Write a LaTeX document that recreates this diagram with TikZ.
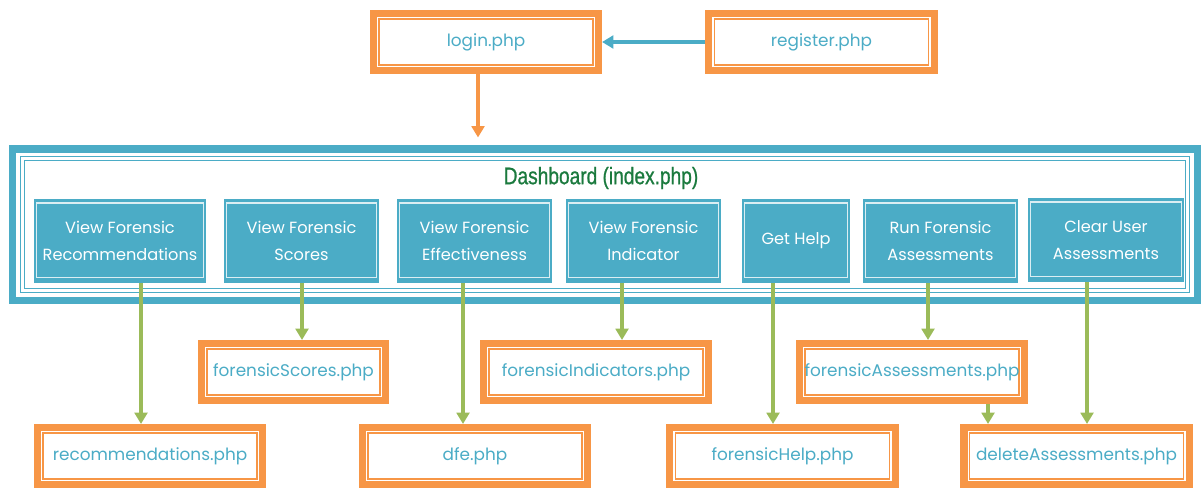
\documentclass[tikz,border=0pt]{standalone}
\usepackage{fontspec}
\setmainfont{Poppins}
\newfontfamily\titlefont[FakeStretch=0.8, FakeBold=0.8]{Liberation Sans}
\usetikzlibrary{arrows.meta}

\definecolor{phporange}{HTML}{F79646}
\definecolor{aqua}{HTML}{4BACC6}
\definecolor{leaf}{HTML}{9BBB59}
\definecolor{dashgreen}{HTML}{1B7A3E}

\tikzset{
	page/.style={shape=rectangle, draw=phporange, line width=5pt, fill=white,
		text=aqua, minimum width=5.625cm, minimum height=1.425cm,
		font=\fontsize{12}{14}\selectfont,
		path picture={\draw[phporange, line width=1pt]
			([shift={(0.14cm,-0.14cm)}]path picture bounding box.north west) rectangle
			([shift={(-0.14cm,0.14cm)}]path picture bounding box.south east);}},
	action/.style={shape=rectangle, fill=aqua, text=white, align=center,
		minimum width=3.875cm, minimum height=2.1cm,
		font=\fontsize{11.5}{19}\selectfont,
		path picture={\draw[white, opacity=0.8, line width=0.8pt]
			([shift={(0.06cm,-0.1cm)}]path picture bounding box.north west) rectangle
			([shift={(-0.06cm,0.13cm)}]path picture bounding box.south east);}},
	flow/.style={-{Triangle[length=8pt,width=9pt]}, line width=3pt, leaf},
}

\begin{document}
\begin{tikzpicture}[x=0.025cm, y=-0.025cm]
	\useasboundingbox (0,0) rectangle (1202,488);

	% dashboard frame
	\node[shape=rectangle, draw=aqua, line width=5pt, minimum width=29.6cm, minimum height=3.775cm,
		path picture={
			\draw[aqua, line width=1.2pt]
				([shift={(0.19cm,-0.19cm)}]path picture bounding box.north west) rectangle
				([shift={(-0.19cm,0.19cm)}]path picture bounding box.south east);
			\draw[aqua, line width=0.8pt]
				([shift={(0.29cm,-0.29cm)}]path picture bounding box.north west) rectangle
				([shift={(-0.29cm,0.29cm)}]path picture bounding box.south east);}]
		(dash) at (605, 224.5) {};
	\node[text=dashgreen, font=\titlefont\fontsize{17}{19}\selectfont] (dashtitle) at (601, 178) {Dashboard (index.php)};

	% top pages
	\node[page] (login) at (486, 42) {login.php};
	\node[page] (register) at (821.5, 42) {register.php};

	% dashboard actions
	\node[action, minimum width=4.3cm] (viewrec) at (120, 241) {View Forensic\\Recommendations};
	\node[action] (viewscores) at (301.5, 241) {View Forensic\\Scores};
	\node[action] (viewdfe) at (474.5, 241) {View Forensic\\Effectiveness};
	\node[action] (viewind) at (643.5, 241) {View Forensic\\Indicator};
	\node[action, minimum width=2.7cm] (gethelp) at (796, 241) {Get Help};
	\node[action] (runass) at (940.5, 241) {Run Forensic\\Assessments};
	\node[action] (clearass) at (1106, 240) {Clear User\\Assessments};

	% php pages
	\node[page, minimum width=4.6cm] (scores) at (293.5, 372) {forensicScores.php};
	\node[page] (indicators) at (596, 372) {forensicIndicators.php};
	\node[page] (assess) at (912, 372) {forensicAssessments.php};
	\node[page] (rec) at (150, 456) {recommendations.php};
	\node[page] (dfe) at (475, 456) {dfe.php};
	\node[page] (help) at (782.5, 456) {forensicHelp.php};
	\node[page] (delete) at (1076.5, 456) {deleteAssessments.php};

	\path[-{Triangle[length=8pt,width=9pt]}, line width=3pt, aqua] (register) edge (login);
	\path[-{Triangle[length=8pt,width=9pt]}, line width=3pt, phporange, shorten >=0.2cm]
		(login.south -| 478,0) edge (dash.north -| 478,0);

	\path[flow] (viewrec.south -| 141,0) edge (rec.north -| 141,0);
	\path[flow] (viewscores.south -| 302,0) edge (scores.north -| 302,0);
	\path[flow] (viewdfe.south -| 463,0) edge (dfe.north -| 463,0);
	\path[flow] (viewind.south -| 622,0) edge (indicators.north -| 622,0);
	\path[flow] (gethelp.south -| 773,0) edge (help.north -| 773,0);
	\path[flow] (runass.south -| 928,0) edge (assess.north -| 928,0);
	\path[flow] (clearass.south -| 1087,0) edge (delete.north -| 1087,0);
	\path[flow] (assess.south -| 988,0) edge (delete.north -| 988,0);

\end{tikzpicture}
\end{document}
